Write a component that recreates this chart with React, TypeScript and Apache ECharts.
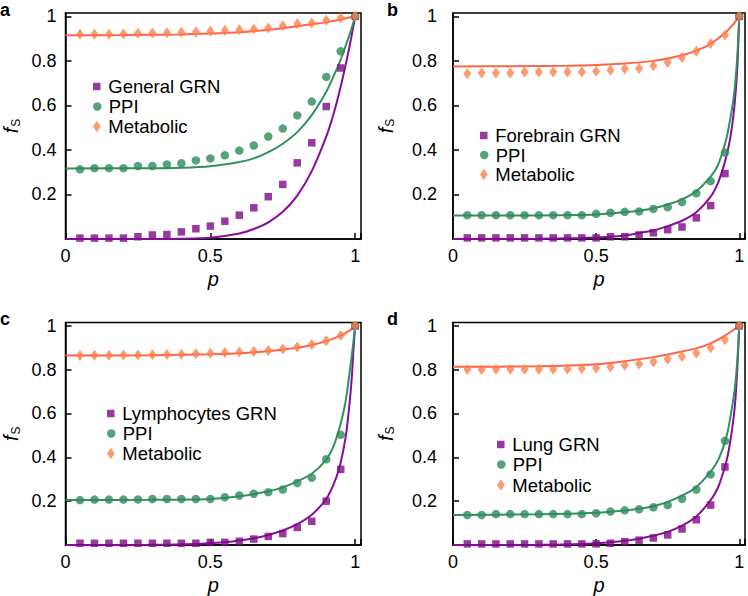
import React, { useEffect, useRef } from "react";
import * as echarts from "echarts";

const F = '"Liberation Sans", Arial, sans-serif';

// p values of the simulation markers
const pValues = [0.05, 0.1, 0.15, 0.2, 0.25, 0.3, 0.35, 0.4, 0.45, 0.5, 0.55, 0.6, 0.65, 0.7, 0.75, 0.8, 0.85, 0.9, 0.95, 1.0];
const xTickLabels = ["0", "0.5", "1"];

const grnNames = ["General GRN", "Forebrain GRN", "Lymphocytes GRN", "Lung GRN"];
const panelLetters = ["a", "b", "c", "d"];

// panel a
const grnA = [0.004, 0.004, 0.004, 0.004, 0.01, 0.018, 0.02, 0.032, 0.046, 0.058, 0.08, 0.107, 0.14, 0.19, 0.245, 0.342, 0.432, 0.595, 0.768, 1];
const ppiA = [0.313, 0.318, 0.318, 0.318, 0.328, 0.328, 0.335, 0.34, 0.353, 0.362, 0.376, 0.397, 0.42, 0.46, 0.496, 0.555, 0.617, 0.728, 0.843, 1];
const metA = [0.92, 0.92, 0.92, 0.921, 0.924, 0.925, 0.926, 0.928, 0.93, 0.933, 0.936, 0.94, 0.943, 0.948, 0.958, 0.967, 0.97, 0.982, 0.993, 1];
const grnLineA = [[0, 0], [0.3, 0.0002], [0.4, 0.0013], [0.5, 0.006], [0.6, 0.025], [0.65, 0.045], [0.7, 0.075], [0.75, 0.122], [0.8, 0.195], [0.85, 0.305], [0.9, 0.46], [0.925, 0.56], [0.95, 0.685], [0.97, 0.8], [0.985, 0.895], [1, 1]];
const ppiLineA = [[0, 0.317], [0.3, 0.318], [0.4, 0.32], [0.5, 0.327], [0.6, 0.346], [0.65, 0.362], [0.7, 0.39], [0.75, 0.428], [0.8, 0.48], [0.85, 0.556], [0.9, 0.661], [0.925, 0.73], [0.95, 0.806], [0.97, 0.878], [0.985, 0.935], [1, 1]];
const metLineA = [[0, 0.915], [0.2, 0.916], [0.4, 0.919], [0.5, 0.923], [0.6, 0.929], [0.7, 0.94], [0.8, 0.956], [0.85, 0.964], [0.9, 0.974], [0.95, 0.986], [1, 1]];

// panel b
const grnB = [0.005, 0.005, 0.005, 0.005, 0.005, 0.005, 0.005, 0.005, 0.005, 0.005, 0.01, 0.01, 0.018, 0.028, 0.042, 0.054, 0.095, 0.15, 0.294, 1];
const ppiB = [0.107, 0.107, 0.107, 0.107, 0.107, 0.107, 0.107, 0.107, 0.107, 0.113, 0.118, 0.122, 0.124, 0.135, 0.143, 0.166, 0.205, 0.26, 0.388, 1];
const metB = [0.742, 0.745, 0.746, 0.746, 0.75, 0.75, 0.75, 0.75, 0.75, 0.753, 0.758, 0.765, 0.766, 0.778, 0.793, 0.815, 0.843, 0.878, 0.916, 1];
const grnLineB = [[0, 0], [0.3, 0.001], [0.45, 0.004], [0.55, 0.01], [0.6, 0.016], [0.65, 0.027], [0.7, 0.038], [0.75, 0.058], [0.8, 0.082], [0.85, 0.12], [0.9, 0.19], [0.925, 0.25], [0.945, 0.325], [0.96, 0.4], [0.97, 0.465], [0.98, 0.56], [0.988, 0.67], [0.994, 0.79], [1, 1]];
const ppiLineB = [[0, 0.105], [0.3, 0.106], [0.5, 0.11], [0.6, 0.12], [0.65, 0.127], [0.7, 0.138], [0.75, 0.155], [0.8, 0.178], [0.85, 0.215], [0.9, 0.28], [0.925, 0.33], [0.94, 0.385], [0.955, 0.45], [0.97, 0.55], [0.98, 0.63], [0.988, 0.73], [0.994, 0.84], [1, 1]];
const metLineB = [[0, 0.775], [0.2, 0.776], [0.4, 0.778], [0.5, 0.781], [0.6, 0.788], [0.7, 0.8], [0.75, 0.811], [0.8, 0.825], [0.85, 0.846], [0.9, 0.877], [0.95, 0.925], [0.975, 0.958], [1, 1]];

// panel c
const grnC = [0.008, 0.008, 0.008, 0.008, 0.008, 0.008, 0.008, 0.008, 0.008, 0.012, 0.012, 0.017, 0.027, 0.039, 0.052, 0.08, 0.108, 0.2, 0.345, 1];
const ppiC = [0.205, 0.207, 0.207, 0.207, 0.208, 0.21, 0.21, 0.21, 0.21, 0.21, 0.218, 0.226, 0.234, 0.241, 0.253, 0.283, 0.307, 0.391, 0.503, 1];
const metC = [0.865, 0.866, 0.866, 0.867, 0.867, 0.868, 0.869, 0.87, 0.872, 0.875, 0.878, 0.88, 0.883, 0.887, 0.894, 0.903, 0.915, 0.932, 0.956, 1];
const grnLineC = [[0, 0], [0.3, 0.001], [0.45, 0.005], [0.55, 0.013], [0.6, 0.02], [0.65, 0.031], [0.7, 0.046], [0.75, 0.066], [0.8, 0.095], [0.85, 0.138], [0.9, 0.21], [0.925, 0.275], [0.945, 0.35], [0.96, 0.44], [0.97, 0.52], [0.98, 0.64], [0.988, 0.76], [0.994, 0.89], [1, 1]];
const ppiLineC = [[0, 0.205], [0.3, 0.206], [0.5, 0.21], [0.6, 0.222], [0.7, 0.245], [0.75, 0.263], [0.8, 0.29], [0.85, 0.325], [0.9, 0.39], [0.925, 0.45], [0.945, 0.53], [0.96, 0.61], [0.97, 0.68], [0.98, 0.78], [0.988, 0.86], [0.994, 0.93], [1, 1]];
const metLineC = [[0, 0.864], [0.3, 0.866], [0.5, 0.87], [0.6, 0.875], [0.7, 0.884], [0.8, 0.9], [0.85, 0.912], [0.9, 0.93], [0.95, 0.955], [0.98, 0.978], [1, 1]];

// panel d
const grnD = [0.005, 0.005, 0.005, 0.005, 0.005, 0.005, 0.005, 0.005, 0.005, 0.005, 0.008, 0.015, 0.022, 0.032, 0.046, 0.073, 0.115, 0.182, 0.356, 1];
const ppiD = [0.137, 0.137, 0.141, 0.141, 0.141, 0.141, 0.141, 0.141, 0.141, 0.145, 0.153, 0.158, 0.163, 0.172, 0.182, 0.211, 0.253, 0.322, 0.475, 1];
const metD = [0.801, 0.801, 0.802, 0.802, 0.802, 0.802, 0.802, 0.803, 0.805, 0.808, 0.812, 0.82, 0.826, 0.835, 0.848, 0.86, 0.876, 0.9, 0.936, 1];
const grnLineD = [[0, 0], [0.3, 0.001], [0.45, 0.005], [0.55, 0.013], [0.6, 0.019], [0.65, 0.029], [0.7, 0.042], [0.75, 0.06], [0.8, 0.088], [0.85, 0.13], [0.9, 0.205], [0.925, 0.26], [0.945, 0.335], [0.96, 0.41], [0.975, 0.53], [0.985, 0.64], [0.993, 0.8], [1, 1]];
const ppiLineD = [[0, 0.137], [0.3, 0.14], [0.5, 0.147], [0.6, 0.157], [0.65, 0.165], [0.7, 0.177], [0.75, 0.197], [0.8, 0.225], [0.85, 0.265], [0.9, 0.335], [0.925, 0.385], [0.945, 0.45], [0.96, 0.52], [0.975, 0.63], [0.985, 0.72], [0.993, 0.84], [1, 1]];
const metLineD = [[0, 0.813], [0.3, 0.815], [0.5, 0.824], [0.6, 0.838], [0.7, 0.857], [0.8, 0.883], [0.85, 0.897], [0.9, 0.92], [0.95, 0.955], [1, 1]];

const grnPoints = [grnA, grnB, grnC, grnD];
const ppiPoints = [ppiA, ppiB, ppiC, ppiD];
const metPoints = [metA, metB, metC, metD];
const grnLines = [grnLineA, grnLineB, grnLineC, grnLineD];
const ppiLines = [ppiLineA, ppiLineB, ppiLineC, ppiLineD];
const metLines = [metLineA, metLineB, metLineC, metLineD];

// layout (pixels)
const grids = [
  { left: 65, top: 13, width: 296, height: 226 },
  { left: 453, top: 13, width: 293, height: 226 },
  { left: 65, top: 322.5, width: 296, height: 225.5 },
  { left: 453, top: 322.5, width: 293, height: 225.5 },
];
const yLabelMargin = [9, 16, 9, 16];
const yNameGap = [44, 57, 44, 57];
const legendLeft = [93, 480, 107, 497];
const legendRowCenters = [
  [86, 106, 126],
  [135, 154.5, 174],
  [413, 433, 453],
  [444, 464, 484.5],
];
const letterPos = [
  [0, 1],
  [387, 1],
  [0, 310],
  [387, 310],
];

const C_GRN = "#7E0A86";
const C_GRN_LINE = "#8A0A9C";
const C_PPI = "#2E8B57";
const C_PPI_LINE = "#2F9160";
const C_MET = "#FF7F4A";
const C_MET_LINE = "#FF6445";

const SQUARE_ICON = "path://M0 0H10V10H0Z";
const DIAMOND_ICON = "path://M5 0L10 7.5L5 15L0 7.5Z";

function zip(vals: number[]) {
  return pValues.map((p, i) => [p, vals[i]]);
}

function buildOption() {
  const xAxis: any[] = [];
  const yAxis: any[] = [];
  const series: any[] = [];
  const legend: any[] = [];
  const graphic: any[] = [];

  for (let i = 0; i < 4; i++) {
    xAxis.push({
      type: "value",
      gridIndex: i,
      min: 0,
      max: 1.02,
      interval: 0.5,
      axisLine: { show: true, lineStyle: { color: "#000", width: 1.5 } },
      axisTick: { show: true, inside: true, length: 6, lineStyle: { color: "#000", width: 1.5 } },
      axisLabel: {
        color: "#000",
        fontSize: 18,
        fontFamily: F,
        margin: 8,
        formatter: (v: number) => {
          const idx = Math.round(v / 0.5);
          return Math.abs(v - idx * 0.5) < 1e-6 && idx < xTickLabels.length ? xTickLabels[idx] : "";
        },
      },
      splitLine: { show: false },
      name: "p",
      nameLocation: "middle",
      nameGap: 30,
      nameTextStyle: { fontStyle: "italic", fontSize: 20, fontFamily: F, color: "#000" },
    });
    yAxis.push({
      type: "value",
      gridIndex: i,
      min: 0,
      max: 1.015,
      interval: 0.2,
      axisLine: { show: true, lineStyle: { color: "#000", width: 1.5 } },
      axisTick: { show: true, inside: true, length: 6, lineStyle: { color: "#000", width: 1.5 } },
      axisLabel: {
        color: "#000",
        fontSize: 18,
        fontFamily: F,
        margin: yLabelMargin[i],
        formatter: (v: number) => (v < 0.01 ? "" : String(Math.round(v * 10) / 10)),
      },
      splitLine: { show: false },
      name: "{f|f}{s|S}",
      nameLocation: "middle",
      nameRotate: 90,
      nameGap: yNameGap[i],
      nameTextStyle: {
        color: "#000",
        rich: {
          f: { fontStyle: "italic", fontSize: 20, fontFamily: F, color: "#000" },
          s: { fontSize: 12, fontFamily: F, color: "#000", padding: [9, 0, 0, 1] },
        },
      },
    });

    const lineCommon = {
      type: "line",
      xAxisIndex: i,
      yAxisIndex: i,
      showSymbol: false,
      symbol: "none",
      smooth: 0.25,
      z: 2,
      silent: true,
    };
    series.push({ ...lineCommon, name: "grn-fit-" + i, data: grnLines[i], lineStyle: { color: C_GRN_LINE, width: 2 } });
    series.push({ ...lineCommon, name: "ppi-fit-" + i, data: ppiLines[i], lineStyle: { color: C_PPI_LINE, width: 2 } });
    series.push({ ...lineCommon, name: "met-fit-" + i, data: metLines[i], lineStyle: { color: C_MET_LINE, width: 2 } });

    series.push({
      type: "scatter",
      name: grnNames[i],
      xAxisIndex: i,
      yAxisIndex: i,
      data: zip(grnPoints[i]),
      symbol: "rect",
      symbolSize: 7.5,
      itemStyle: { color: C_GRN },
      clip: false,
      z: 3,
    });
    series.push({
      type: "scatter",
      name: "PPI",
      xAxisIndex: i,
      yAxisIndex: i,
      data: zip(ppiPoints[i]),
      symbol: "circle",
      symbolSize: 8.5,
      itemStyle: { color: C_PPI },
      clip: false,
      z: 3,
    });
    series.push({
      type: "scatter",
      name: "Metabolic",
      xAxisIndex: i,
      yAxisIndex: i,
      data: zip(metPoints[i]),
      symbol: "diamond",
      symbolSize: [8, 11],
      itemStyle: { color: C_MET },
      clip: false,
      z: 3,
    });

    const rows = [
      { name: grnNames[i], icon: SQUARE_ICON, h: 7.5 },
      { name: "PPI", icon: "circle", h: 8.5 },
      { name: "Metabolic", icon: DIAMOND_ICON, h: 11.5 },
    ];
    rows.forEach((r, k) => {
      legend.push({
        left: legendLeft[i],
        top: legendRowCenters[i][k] - 9,
        orient: "vertical",
        padding: 0,
        itemGap: 0,
        itemWidth: 13,
        itemHeight: r.h,
        selectedMode: false,
        data: [{ name: r.name, icon: r.icon }],
        textStyle: { color: "#000", fontSize: 18.5, fontFamily: F, padding: [0, 0, 0, 0] },
      });
    });

    graphic.push({
      type: "text",
      left: letterPos[i][0],
      top: letterPos[i][1],
      style: { text: panelLetters[i], font: 'bold 18px "Liberation Sans", Arial, sans-serif', fill: "#000" },
    });
  }

  return {
    animation: false,
    backgroundColor: "#fff",
    grid: grids.map((g) => ({ ...g, show: true, borderColor: "#000", borderWidth: 1.5, backgroundColor: "transparent", containLabel: false })),
    xAxis,
    yAxis,
    legend,
    series,
    graphic,
  };
}

export default function App() {
  const ref = useRef<HTMLDivElement>(null);
  useEffect(() => {
    if (!ref.current) return;
    const chart = echarts.init(ref.current, undefined, { renderer: "svg" });
    chart.setOption(buildOption() as any);
    return () => chart.dispose();
  }, []);
  return <div ref={ref} style={{ position: "fixed", left: 0, top: 0, width: 748, height: 596, background: "#fff" }} />;
}
